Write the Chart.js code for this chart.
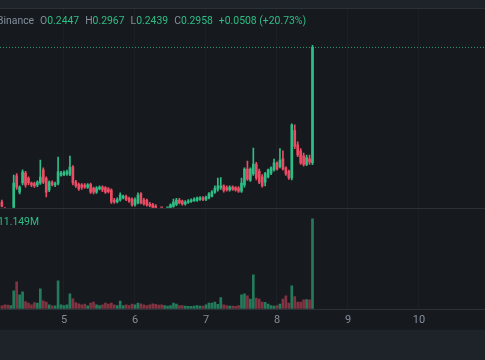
<!DOCTYPE html>
<html>
<head>
<meta charset="utf-8">
<script src="https://cdn.jsdelivr.net/npm/chart.js@4.4.1/dist/chart.umd.min.js"></script>
<style>
  html, body { margin: 0; padding: 0; background: #161a1e; }
  #wrap { position: relative; width: 485px; height: 360px; overflow: hidden; }
  #chart { position: absolute; left: 0; top: 0; }
  .label { position: absolute; font: 10.4px Roboto, sans-serif; line-height: 14px; white-space: nowrap; }
  #legend { left: -3px; top: 14px; color: #848e9c; }
  #legend .grp { margin-left: 6px; }
  #legend .v { color: #2ebd85; }
  #vol { left: -2px; top: 215px; color: #2ebd85; }
</style>
</head>
<body>
<div id="wrap">
  <canvas id="chart" width="485" height="360"></canvas>
  <div id="legend" class="label"></div>
  <div id="vol" class="label"></div>
</div>
<script>
// hourly candles, day 4 03:00 -> day 8 12:00
const opens = [
  0.2274, 0.2245, 0.2225, 0.2210, 0.2240, 0.2390, 0.2318, 0.2358, 0.2402, 0.2380,
  0.2358, 0.2356, 0.2349, 0.2358, 0.2416, 0.2380, 0.2327, 0.2362, 0.2349, 0.2356,
  0.2393, 0.2395, 0.2398, 0.2396, 0.2429, 0.2362, 0.2352, 0.2350, 0.2349, 0.2340,
  0.2352, 0.2336, 0.2318, 0.2332, 0.2340, 0.2338, 0.2332, 0.2327, 0.2283, 0.2274,
  0.2283, 0.2292, 0.2298, 0.2290, 0.2287, 0.2261, 0.2270, 0.2310, 0.2283, 0.2281,
  0.2265, 0.2262, 0.2256, 0.2240, 0.2232, 0.2230, 0.2236, 0.2247, 0.2254, 0.2263,
  0.2283, 0.2278, 0.2265, 0.2272, 0.2276, 0.2280, 0.2281, 0.2285, 0.2292, 0.2285,
  0.2292, 0.2300, 0.2318, 0.2330, 0.2336, 0.2345, 0.2338, 0.2327, 0.2340, 0.2338,
  0.2336, 0.2322, 0.2349, 0.2420, 0.2371, 0.2398, 0.2442, 0.2410, 0.2385, 0.2362,
  0.2385, 0.2402, 0.2416, 0.2447, 0.2430, 0.2465, 0.2425, 0.2410, 0.2380, 0.2590,
  0.2527, 0.2500, 0.2478, 0.2440, 0.2465, 0.2447
];
const highs = [
  0.2283, 0.2250, 0.2232, 0.2238, 0.2393, 0.2400, 0.2345, 0.2416, 0.2410, 0.2385,
  0.2362, 0.2362, 0.2368, 0.2460, 0.2425, 0.2385, 0.2368, 0.2368, 0.2362, 0.2473,
  0.2410, 0.2412, 0.2415, 0.2477, 0.2435, 0.2370, 0.2358, 0.2356, 0.2356, 0.2356,
  0.2358, 0.2340, 0.2342, 0.2345, 0.2345, 0.2342, 0.2338, 0.2332, 0.2290, 0.2292,
  0.2314, 0.2305, 0.2305, 0.2296, 0.2292, 0.2292, 0.2314, 0.2316, 0.2290, 0.2287,
  0.2272, 0.2268, 0.2262, 0.2246, 0.2242, 0.2244, 0.2246, 0.2266, 0.2287, 0.2290,
  0.2290, 0.2283, 0.2280, 0.2285, 0.2288, 0.2292, 0.2296, 0.2298, 0.2298, 0.2300,
  0.2316, 0.2325, 0.2345, 0.2380, 0.2382, 0.2350, 0.2345, 0.2345, 0.2345, 0.2342,
  0.2342, 0.2380, 0.2425, 0.2455, 0.2425, 0.2513, 0.2450, 0.2420, 0.2395, 0.2405,
  0.2420, 0.2430, 0.2464, 0.2452, 0.2510, 0.2500, 0.2430, 0.2415, 0.2620, 0.2615,
  0.2540, 0.2510, 0.2490, 0.2482, 0.2482, 0.2967
];
const lows = [
  0.2252, 0.2215, 0.2200, 0.2205, 0.2235, 0.2330, 0.2310, 0.2350, 0.2340, 0.2350,
  0.2342, 0.2338, 0.2342, 0.2352, 0.2355, 0.2296, 0.2320, 0.2345, 0.2342, 0.2350,
  0.2388, 0.2390, 0.2392, 0.2390, 0.2350, 0.2338, 0.2325, 0.2330, 0.2334, 0.2334,
  0.2312, 0.2310, 0.2312, 0.2327, 0.2320, 0.2312, 0.2314, 0.2268, 0.2268, 0.2270,
  0.2278, 0.2288, 0.2280, 0.2272, 0.2255, 0.2256, 0.2265, 0.2265, 0.2260, 0.2255,
  0.2252, 0.2240, 0.2232, 0.2225, 0.2220, 0.2222, 0.2228, 0.2240, 0.2250, 0.2258,
  0.2265, 0.2260, 0.2260, 0.2268, 0.2272, 0.2276, 0.2277, 0.2281, 0.2280, 0.2280,
  0.2288, 0.2296, 0.2312, 0.2322, 0.2330, 0.2318, 0.2322, 0.2322, 0.2325, 0.2322,
  0.2316, 0.2316, 0.2340, 0.2370, 0.2365, 0.2392, 0.2372, 0.2355, 0.2340, 0.2345,
  0.2380, 0.2395, 0.2410, 0.2415, 0.2425, 0.2415, 0.2392, 0.2374, 0.2372, 0.2510,
  0.2475, 0.2440, 0.2432, 0.2435, 0.2440, 0.2439
];
const closes = [
  0.2256, 0.2225, 0.2210, 0.2230, 0.2358, 0.2340, 0.2340, 0.2407, 0.2349, 0.2358,
  0.2349, 0.2345, 0.2362, 0.2384, 0.2362, 0.2318, 0.2362, 0.2349, 0.2356, 0.2407,
  0.2402, 0.2405, 0.2407, 0.2429, 0.2358, 0.2345, 0.2332, 0.2338, 0.2340, 0.2350,
  0.2318, 0.2318, 0.2336, 0.2340, 0.2327, 0.2318, 0.2320, 0.2274, 0.2274, 0.2285,
  0.2305, 0.2300, 0.2285, 0.2278, 0.2261, 0.2285, 0.2305, 0.2270, 0.2265, 0.2261,
  0.2258, 0.2248, 0.2240, 0.2232, 0.2228, 0.2236, 0.2240, 0.2261, 0.2274, 0.2283,
  0.2270, 0.2265, 0.2274, 0.2278, 0.2283, 0.2287, 0.2292, 0.2292, 0.2285, 0.2296,
  0.2310, 0.2318, 0.2336, 0.2345, 0.2345, 0.2325, 0.2327, 0.2340, 0.2330, 0.2327,
  0.2322, 0.2358, 0.2420, 0.2375, 0.2420, 0.2442, 0.2380, 0.2362, 0.2345, 0.2400,
  0.2416, 0.2425, 0.2447, 0.2420, 0.2460, 0.2420, 0.2398, 0.2380, 0.2615, 0.2520,
  0.2482, 0.2447, 0.2440, 0.2470, 0.2450, 0.2958
];
// volume in millions
const volumes = [
  0.37, 0.50, 0.45, 0.40, 2.23, 3.35, 1.73, 2.10, 0.90, 0.70,
  0.50, 0.78, 0.70, 2.48, 1.00, 0.83, 0.50, 0.37, 0.37, 3.47,
  0.50, 0.40, 0.50, 1.86, 1.24, 0.78, 0.62, 0.50, 0.57, 0.37,
  0.70, 0.83, 0.50, 0.40, 0.50, 0.70, 0.60, 0.70, 0.50, 0.40,
  0.95, 0.40, 0.50, 0.40, 0.57, 0.50, 0.70, 0.62, 0.50, 0.40,
  0.50, 0.62, 0.55, 0.45, 0.50, 0.40, 0.33, 0.40, 0.70, 0.57,
  0.40, 0.40, 0.33, 0.30, 0.30, 0.33, 0.40, 0.33, 0.33, 0.50,
  0.70, 0.70, 0.83, 0.55, 1.40, 0.50, 0.40, 0.33, 0.33, 0.30,
  0.40, 1.73, 1.86, 1.60, 1.20, 4.20, 1.32, 1.20, 0.83, 0.80,
  0.60, 0.40, 0.35, 0.40, 0.60, 1.20, 1.60, 0.70, 2.85, 1.50,
  0.83, 0.83, 1.10, 1.15, 1.10, 11.149
];
const dayTicks = [5, 6, 7, 8, 9, 10];
const dayLabels = ['5', '6', '7', '8', '9', '10'];
const legendKeys = ['O', 'H', 'L', 'C'];
const exchange = 'Binance';

const firstBar = 4 + 3 / 24;
const barStep = 1 / 24;
const xMin = 4.0986, xMax = 10.9296;

const upColor = '#2ebd85';
const downColor = '#ec4b63';
const upVol = 'rgba(46,189,133,0.6)';
const downVol = 'rgba(236,75,99,0.5)';

const last = closes.length - 1;
const isUp = i => closes[i] >= opens[i];
const barX = i => firstBar + i * barStep;

// legend text
const lastVals = [opens[last], highs[last], lows[last], closes[last]];
const change = closes[last] - closes[last - 1];
const pct = change / closes[last - 1] * 100;
const sign = change >= 0 ? '+' : '-';
let html = '<span>' + exchange + '</span>';
legendKeys.forEach((k, i) => {
  html += '<span class="grp">' + k + '<span class="v">' + lastVals[i].toFixed(4) + '</span></span>';
});
html += '<span class="grp v">' + sign + Math.abs(change).toFixed(4) + ' (' + sign + Math.abs(pct).toFixed(2) + '%)</span>';
document.getElementById('legend').innerHTML = html;
document.getElementById('vol').textContent = volumes[last].toFixed(3) + 'M';

const paneBackground = {
  id: 'paneBackground',
  beforeDraw(chart) {
    const {ctx, width, height, chartArea} = chart;
    ctx.save();
    ctx.fillStyle = '#161a1e';
    ctx.fillRect(0, 0, width, height);
    ctx.fillStyle = '#1e2329';
    ctx.fillRect(0, 0, width, 8);
    ctx.fillRect(0, chartArea.bottom + 21, width, height);
    ctx.restore();
  },
  afterDraw(chart) {
    const {ctx, width, chartArea, scales} = chart;
    ctx.save();
    ctx.strokeStyle = '#2b3139';
    ctx.lineWidth = 1;
    [8, scales.price.bottom, chartArea.bottom].forEach(y => {
      const yy = Math.round(y) + 0.5;
      ctx.beginPath();
      ctx.moveTo(0, yy);
      ctx.lineTo(width, yy);
      ctx.stroke();
    });
    ctx.restore();
  }
};

const hiddenAxis = {
  type: 'linear',
  position: 'right',
  stack: 'panes',
  ticks: { display: false },
  grid: { display: false, drawTicks: false },
  border: { display: false }
};

new Chart(document.getElementById('chart'), {
  type: 'bar',
  data: {
    datasets: [
      {
        label: 'body',
        data: opens.map((o, i) => ({ x: barX(i), y: [o, closes[i]] })),
        backgroundColor: c => isUp(c.dataIndex) ? upColor : downColor,
        barThickness: 2,
        minBarLength: 1,
        grouped: false,
        clip: 0,
        yAxisID: 'price'
      },
      {
        label: 'wick',
        data: lows.map((l, i) => ({ x: barX(i), y: [l, highs[i]] })),
        backgroundColor: c => isUp(c.dataIndex) ? upColor : downColor,
        barThickness: 1,
        grouped: false,
        clip: 0,
        yAxisID: 'price'
      },
      {
        label: 'volume',
        data: volumes.map((v, i) => ({ x: barX(i), y: v })),
        backgroundColor: c => isUp(c.dataIndex) ? upVol : downVol,
        barThickness: 2,
        grouped: false,
        clip: 0,
        yAxisID: 'vol'
      },
      {
        label: 'last price',
        type: 'line',
        data: [{ x: xMin, y: closes[last] }, { x: xMax, y: closes[last] }],
        borderColor: 'rgba(46,189,133,0.8)',
        borderWidth: 1,
        borderDash: [1, 2],
        pointRadius: 0,
        yAxisID: 'price'
      }
    ]
  },
  options: {
    responsive: false,
    animation: false,
    events: [],
    layout: { padding: { top: 9, bottom: 28, left: 0, right: 0 } },
    plugins: { legend: { display: false }, tooltip: { enabled: false } },
    scales: {
      x: {
        type: 'linear',
        offset: false,
        min: xMin,
        max: xMax,
        afterBuildTicks: s => { s.ticks = dayTicks.map(v => ({ value: v })); },
        ticks: {
          callback: v => dayLabels[dayTicks.indexOf(v)],
          color: '#848e9c',
          font: { family: 'Roboto', size: 11 },
          padding: 5,
          maxRotation: 0,
          autoSkip: false
        },
        grid: { color: 'rgba(132,142,156,0.06)', drawTicks: false, offset: false },
        border: { display: false }
      },
      price: Object.assign({}, hiddenAxis, { stackWeight: 199, min: 0.2248, max: 0.3128 }),
      vol: Object.assign({}, hiddenAxis, { stackWeight: 101, min: 0, max: 12.51 })
    }
  },
  plugins: [paneBackground]
});
</script>
</body>
</html>
